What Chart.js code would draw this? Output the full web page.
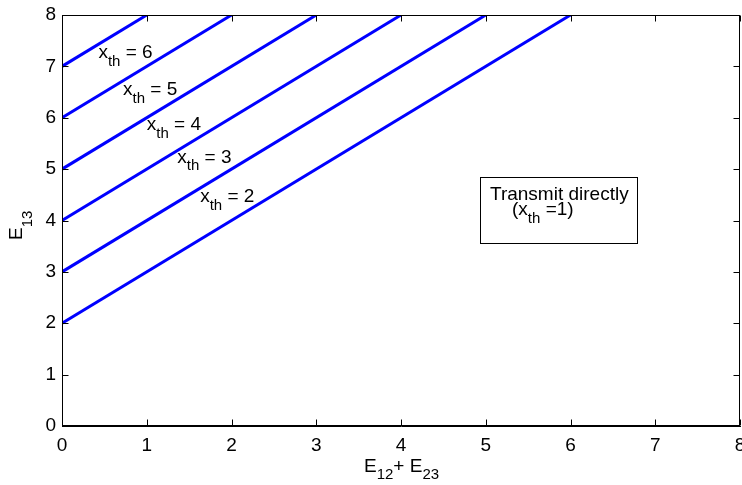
<!DOCTYPE html>
<html>
<head>
<meta charset="utf-8">
<script src="https://cdn.jsdelivr.net/npm/chart.js@4.4.1/dist/chart.umd.min.js"></script>
<style>
  body { margin: 0; background: #fff; overflow: hidden; }
</style>
</head>
<body>
<canvas id="chart" width="742" height="485"></canvas>
<script>
// tick labels
const xTicks = [0, 1, 2, 3, 4, 5, 6, 7, 8];
const yTicks = [0, 1, 2, 3, 4, 5, 6, 7, 8];

// threshold lines: from (0, startY) up to (endX, 8)
const thresholds = [2, 3, 4, 5, 6, 7];
const startY = [2, 3, 4, 5, 6, 7];
const endX = [6, 5, 4, 3, 2, 1];
const endY = [8, 8, 8, 8, 8, 8];

// in-plot labels (x_th = n), placed in data coordinates
const labelNums = ['6', '5', '4', '3', '2'];
const labelX = [0.43, 0.72, 1.0, 1.36, 1.63];
const labelY = [7.26, 6.54, 5.86, 5.23, 4.46];

const FONT = '"Liberation Sans", Arial, Helvetica, sans-serif';
const BLUE = '#0000ff';

const datasets = thresholds.map((t, i) => ({
    label: 'x_th = ' + t,
    data: [{ x: 0, y: startY[i] }, { x: endX[i], y: endY[i] }],
    showLine: true,
    borderColor: BLUE,
    borderWidth: 3,
    pointRadius: 0,
    fill: false
}));

// draw text with a subscript: parts = [[text, isSub], ...]
function drawParts(ctx, x, y, parts, size, subSize, subDrop) {
    ctx.textBaseline = 'middle';
    ctx.textAlign = 'left';
    parts.forEach(p => {
        ctx.font = (p[1] ? subSize : size) + 'px ' + FONT;
        ctx.fillText(p[0], x, p[1] ? y + subDrop : y);
        x += ctx.measureText(p[0]).width;
    });
}

const decorPlugin = {
    id: 'decor',
    afterDraw(chart) {
        const ctx = chart.ctx;
        const a = chart.chartArea;
        const xs = chart.scales.x, ys = chart.scales.y;
        const L = Math.round(a.left) + 0.5, R = Math.round(a.right) - 0.5;
        const T = Math.round(a.top) + 0.5, B = Math.round(a.bottom) - 0.5;
        ctx.save();
        ctx.strokeStyle = '#000';
        ctx.lineWidth = 1;
        ctx.strokeRect(L, T, R - L, B - T);

        // inward ticks on all four sides
        const tl = 6;
        ctx.beginPath();
        xTicks.forEach(v => {
            const px = Math.round(xs.getPixelForValue(v)) + 0.5;
            ctx.moveTo(px, B); ctx.lineTo(px, B - tl);
            ctx.moveTo(px, T); ctx.lineTo(px, T + tl);
        });
        yTicks.forEach(v => {
            const py = Math.round(ys.getPixelForValue(v)) + 0.5;
            ctx.moveTo(L, py); ctx.lineTo(L + tl, py);
            ctx.moveTo(R, py); ctx.lineTo(R - tl, py);
        });
        ctx.stroke();

        ctx.fillStyle = '#000';
        // x_th labels
        labelNums.forEach((n, i) => {
            drawParts(ctx, xs.getPixelForValue(labelX[i]), ys.getPixelForValue(labelY[i]),
                [['x', false], ['th', true], [' = ' + n, false]], 19, 15, 9);
        });

        // text box
        const bx1 = xs.getPixelForValue(4.93), by1 = ys.getPixelForValue(4.85);
        const bx2 = xs.getPixelForValue(6.78), by2 = ys.getPixelForValue(3.56);
        ctx.strokeRect(Math.round(bx1) + 0.5, Math.round(by1) + 0.5,
            Math.round(bx2 - bx1), Math.round(by2 - by1));
        drawParts(ctx, xs.getPixelForValue(5.05), ys.getPixelForValue(4.5),
            [['Transmit directly', false]], 19, 15, 9);
        drawParts(ctx, xs.getPixelForValue(5.31), ys.getPixelForValue(4.21),
            [['(x', false], ['th', true], [' =1)', false]], 19, 15, 9);

        // axis titles
        drawParts(ctx, 364, 467, [['E', false], ['12', true], ['+ E', false], ['23', true]], 19, 15, 8);
        ctx.translate(17, 240);
        ctx.rotate(-Math.PI / 2);
        drawParts(ctx, 0, 0, [['E', false], ['13', true]], 19, 15, 11);
        ctx.restore();
    }
};

new Chart(document.getElementById('chart'), {
    type: 'scatter',
    data: { datasets: datasets },
    options: {
        responsive: false,
        animation: false,
        layout: { padding: { top: 15, right: 2, bottom: 0, left: 0 } },
        plugins: {
            legend: { display: false },
            tooltip: { enabled: false },
            title: { display: false }
        },
        scales: {
            x: {
                type: 'linear',
                min: 0, max: 8,
                afterBuildTicks: s => { s.ticks = xTicks.map(v => ({ value: v })); },
                afterFit: s => { s.height = 59; s.paddingLeft = 0; s.paddingRight = 0; },
                ticks: {
                    color: '#000', font: { family: FONT, size: 19 },
                    padding: 8, maxRotation: 0, autoSkip: false
                },
                grid: { display: false, drawTicks: false, tickLength: 0 },
                border: { display: true, color: '#000' }
            },
            y: {
                type: 'linear',
                min: 0, max: 8,
                afterBuildTicks: s => { s.ticks = yTicks.map(v => ({ value: v })); },
                afterFit: s => { s.width = 62; s.paddingTop = 0; s.paddingBottom = 0; },
                ticks: {
                    color: '#000', font: { family: FONT, size: 19 },
                    padding: 6, autoSkip: false
                },
                grid: { display: false, drawTicks: false, tickLength: 0 },
                border: { display: true, color: '#000' }
            }
        }
    },
    plugins: [decorPlugin]
});
</script>
</body>
</html>
